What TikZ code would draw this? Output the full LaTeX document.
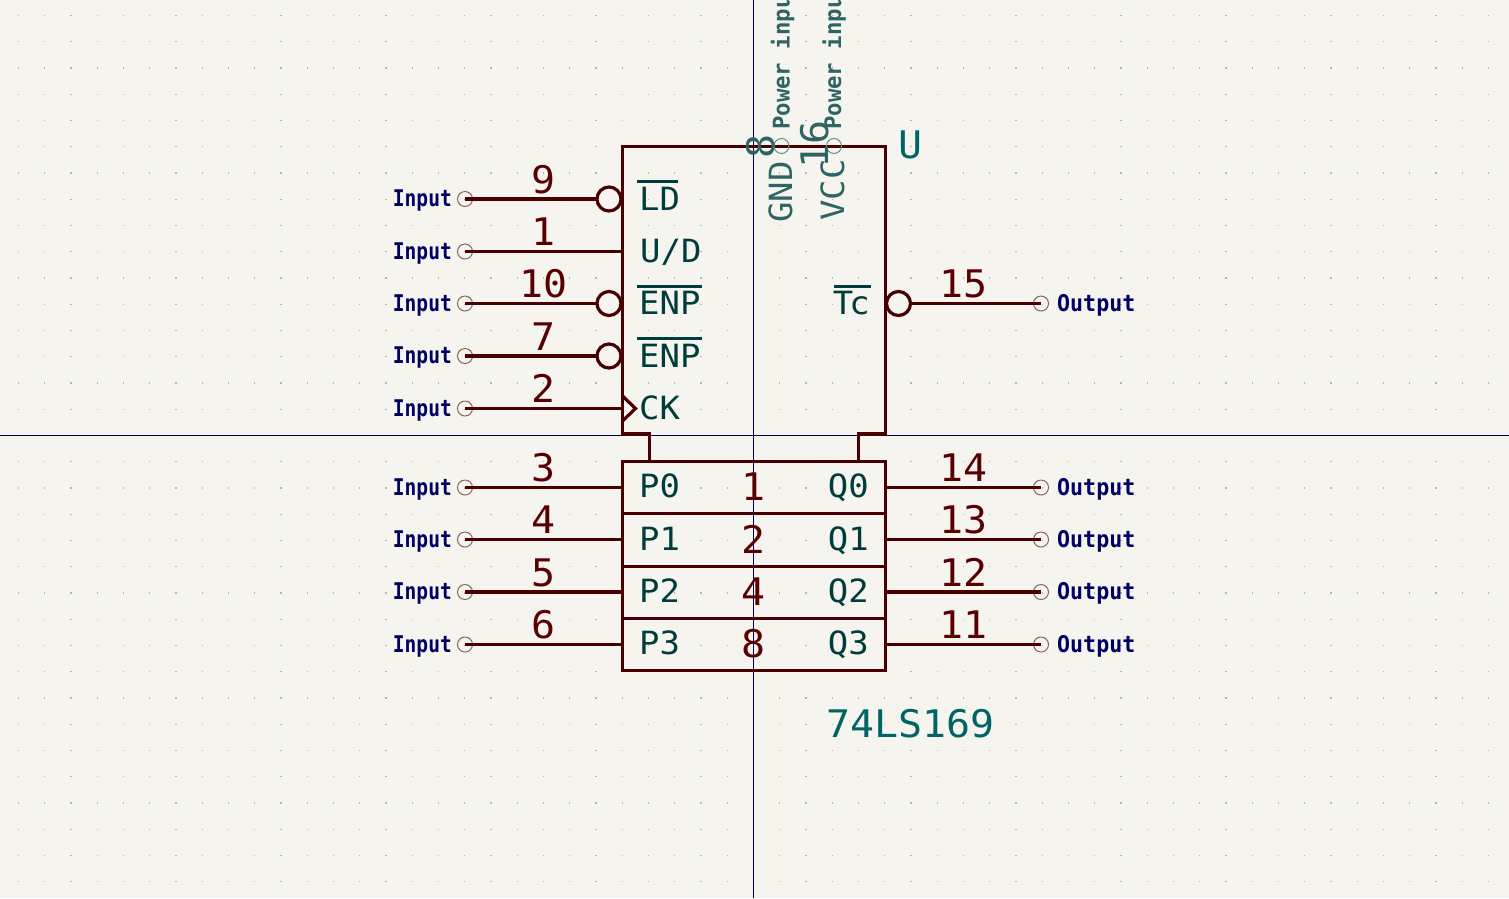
\documentclass[tikz,border=0pt]{standalone}
\usepackage{fontspec}
\newfontfamily\namefont[FakeStretch=1.06]{DejaVu Sans Mono}
\newfontfamily\numfont[FakeStretch=1.05]{DejaVu Sans Mono}
\newfontfamily\inpfont[FakeStretch=0.85]{DejaVu Sans Mono Bold}
\newfontfamily\outfont[FakeStretch=0.94]{DejaVu Sans Mono Bold}
\newfontfamily\pwrfont[FakeStretch=0.97]{DejaVu Sans Mono Bold}
\definecolor{bg}{HTML}{F5F4EF}
\definecolor{griddot}{HTML}{B4B4AE}
\definecolor{body}{HTML}{480000}
\definecolor{numc}{HTML}{5A0000}
\definecolor{namec}{HTML}{003C3C}
\definecolor{refc}{HTML}{006464}
\definecolor{dimc}{HTML}{2F6464}
\definecolor{typec}{HTML}{000064}
\definecolor{cross}{HTML}{000050}
\definecolor{pinend}{HTML}{8F6060}
\tikzset{
  x=1pt,y=-1pt,
  bodyline/.style={draw=body,line width=3.2pt},
  pinline/.style={draw=body,line width=3.2pt},
  bubble/.style={circle,draw=body,line width=3.2pt,minimum size=24pt,inner sep=0pt,outer sep=0pt},
  pinend/.style={circle,draw=pinend,line width=1pt,minimum size=15pt,inner sep=0pt,outer sep=0pt},
  dimend/.style={circle,draw=dimc!70!bg,line width=1pt,minimum size=15pt,inner sep=0pt,outer sep=0pt},
  cell/.style={rectangle,draw=body,line width=3.2pt,minimum width=263pt,minimum height=52.5pt,inner sep=0pt,outer sep=0pt},
  num/.style={font=\numfont\fontsize{38}{38}\selectfont,text=numc,anchor=base,inner sep=0pt},
  pname/.style={font=\namefont\fontsize{32}{32}\selectfont,text=namec,inner sep=0pt},
  inp/.style={font=\inpfont\fontsize{23}{23}\selectfont,text=typec,anchor=base east,inner sep=0pt},
  outp/.style={font=\outfont\fontsize{23}{23}\selectfont,text=typec,anchor=base west,inner sep=0pt},
  pwr/.style={font=\pwrfont\fontsize{23}{23}\selectfont,text=dimc,rotate=90,anchor=base west,inner sep=0pt},
  pwrname/.style={font=\namefont\fontsize{32}{32}\selectfont,text=dimc,rotate=90,anchor=base west,inner sep=0pt},
  pwrnum/.style={font=\numfont\fontsize{38}{38}\selectfont,text=dimc,rotate=90,anchor=base,inner sep=0pt},
  ref/.style={font=\numfont\fontsize{38}{38}\selectfont,text=refc,inner sep=0pt},
  ovbar/.style={draw=namec,line width=3pt},
  hair/.style={draw=cross,line width=0.9pt}
}
\begin{document}
\begin{tikzpicture}
\useasboundingbox (0,0) rectangle (1509,898);
\clip (0,0) rectangle (1509,898);
\fill[bg] (0,0) rectangle (1509,898);
% grid
\foreach \i in {-28,...,28}{
  \foreach \j in {-16,...,17}{
    \fill[griddot] ({753.5+26.25*\i-0.7},{435.5+26.25*\j-0.7}) rectangle ++(1.4,1.4);
  }
}
% crosshair
\draw[hair] (753.5,0) -- (753.5,898);
\draw[hair] (0,435.5) -- (1509,435.5);
% counter body
\draw[bodyline,line join=miter] (649.5,461.5) -- (649.5,434) -- (622.5,434) -- (622.5,146.5) -- (885.5,146.5) -- (885.5,434) -- (858.5,434) -- (858.5,461.5);
% lower cells
\node[cell] (c0) at (754,487.5) {};
\node[cell] (c1) at (754,540) {};
\node[cell] (c2) at (754,592.5) {};
\node[cell] (c3) at (754,644.5) {};
% pin ends left
\foreach \n/\y in {9/199,1/251.5,10/303.5,7/356,2/408.5,3/487.5,4/539.5,5/592,6/644.5}{
  \node[pinend] (e\n) at (465,\y) {};
  \node[inp] (t\n) at (452,{\y+7.5}) {Input};
}
% pin ends right
\foreach \n/\y in {15/303.5,14/487.5,13/539.5,12/592,11/644.5}{
  \node[pinend] (e\n) at (1041,\y) {};
  \node[outp] (t\n) at (1057,{\y+7.5}) {Output};
}
% bubbles
\node[bubble] (b9) at (609,199) {};
\node[bubble] (b10) at (609,303.5) {};
\node[bubble] (b7) at (609,356) {};
\node[bubble] (b15) at (898.5,303.5) {};
% clock
\coordinate (ck) at (622.5,408.5);
\draw[bodyline,line join=miter] (622.5,396) -- (635.5,408.5) -- (622.5,421);
\coordinate (ud) at (622.5,251.5);
% connectors
\draw[pinline] (e9.center) -- (b9.west);
\draw[pinline] (e1.center) -- (ud);
\draw[pinline] (e10.center) -- (b10.west);
\draw[pinline] (e7.center) -- (b7.west);
\draw[pinline] (e2.center) -- (ck);
\draw[pinline] (b15.east) -- (e15.center);
\draw[pinline] (e3.center) -- (e3.center -| c0.west);
\draw[pinline] (e4.center) -- (e4.center -| c1.west);
\draw[pinline] (e5.center) -- (e5.center -| c2.west);
\draw[pinline] (e6.center) -- (e6.center -| c3.west);
\draw[pinline] (e14.center -| c0.east) -- (e14.center);
\draw[pinline] (e13.center -| c1.east) -- (e13.center);
\draw[pinline] (e12.center -| c2.east) -- (e12.center);
\draw[pinline] (e11.center -| c3.east) -- (e11.center);
% pin numbers
\foreach \n/\y in {9/193,1/245.5,10/297.5,7/350,2/402.5,3/481.5,4/533.5,5/586,6/638.5}{
  \node[num] (n\n) at (543.5,\y) {\n};
}
\foreach \n/\y in {15/297.5,14/481.5,13/533.5,12/586,11/638.5}{
  \node[num] (n\n) at (963.5,\y) {\n};
}
% pin names
\node[pname,anchor=base west] (LD) at (639,210) {LD};
\node[pname,anchor=base west] (UD) at (640,262.5) {U/D};
\node[pname,anchor=base west] (ENPa) at (639,314.5) {ENP};
\node[pname,anchor=base west] (ENPb) at (639,367) {ENP};
\node[pname,anchor=base west] (CK) at (639,419.5) {CK};
\node[pname,anchor=base east] (Tc) at (870,314.5) {T\kern-4pt c};
\draw[ovbar] (637,181.5) -- (678,181.5);
\draw[ovbar] (637,286) -- (702,286);
\draw[ovbar] (637,338.5) -- (702,338.5);
\draw[ovbar] (834,286) -- (871,286);
\foreach \k/\y/\w in {0/497.5/1,1/550/2,2/602/4,3/654.5/8}{
  \node[pname,anchor=base west] (P\k) at (639,\y) {P\k};
  \node[pname,anchor=base east] (Q\k) at (869,\y) {Q\k};
  \node[num] (w\k) at (753.5,{\y+3}) {\w};
}
% power pins
\node[dimend] (pg) at (781.5,146) {};
\node[dimend] (pv) at (834,146) {};
\node[pwr] (tg) at (789.5,130) {Power input};
\node[pwr] (tv) at (841,130) {Power input};
\node[pwrname] (GND) at (792,223) {GND};
\node[pwrname] (VCC) at (844,221) {VCC};
\node[pwrnum] (n8) at (774,146) {8};
\node[pwrnum] (n16) at (828,144) {16};
% references
\node[ref,anchor=base] (U) at (910.5,158) {U};
\node[ref,anchor=base west] (val) at (826,737) {74LS169};
\end{tikzpicture}
\end{document}
